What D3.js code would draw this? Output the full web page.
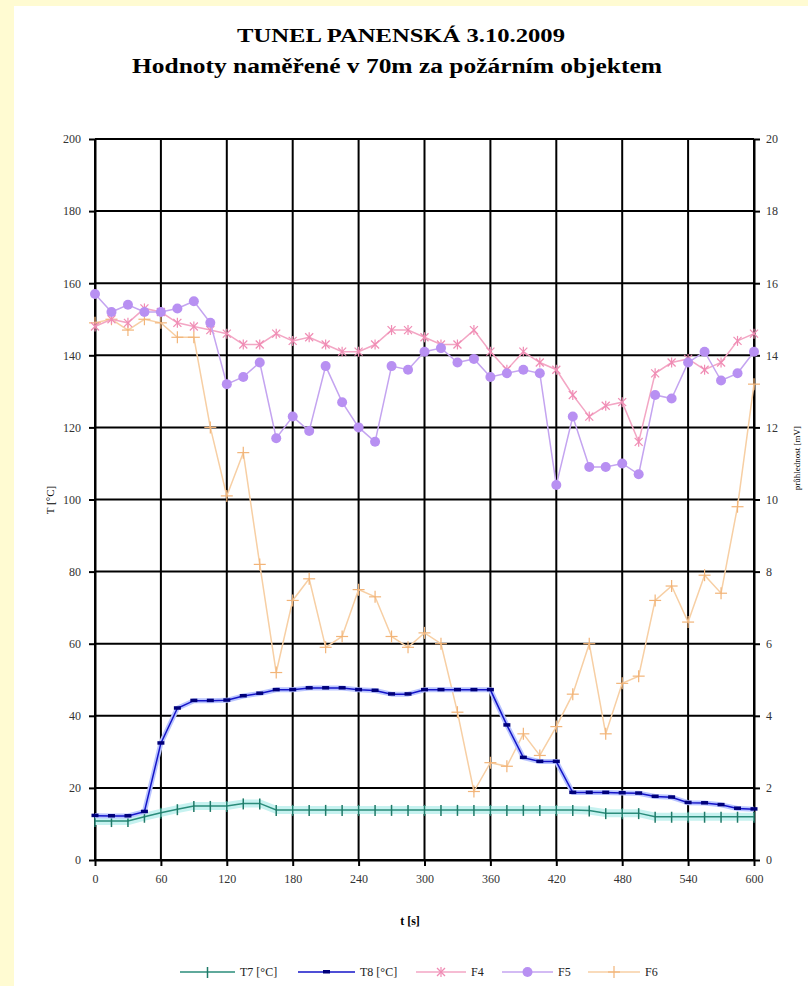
<!DOCTYPE html>
<html>
<head>
<meta charset="utf-8">
<script src="https://cdn.jsdelivr.net/npm/d3@7"></script>
<style>
  body { margin: 0; background: #fffbd2; }
  text { font-family: "Liberation Serif", "DejaVu Serif", serif; }
</style>
</head>
<body>
<script>
// time axis [s], one sample every 15 s
var times = [0, 15, 30, 45, 60, 75, 90, 105, 120, 135, 150, 165, 180, 195, 210,
  225, 240, 255, 270, 285, 300, 315, 330, 345, 360, 375, 390, 405, 420, 435,
  450, 465, 480, 495, 510, 525, 540, 555, 570, 585, 600];

// temperatures [°C], left axis
var T7 = [10.8, 10.8, 10.8, 12.0, 13.1, 14.1, 15.0, 15.0, 15.0, 15.7, 15.7,
  13.9, 13.9, 13.9, 13.9, 13.9, 13.9, 13.9, 13.9, 13.9, 13.9, 13.9, 13.9, 13.9,
  13.9, 13.9, 13.9, 13.9, 13.9, 13.9, 13.7, 13.0, 13.0, 13.0, 12.0, 12.0, 12.0,
  12.0, 12.0, 12.0, 12.0];
var T8 = [12.3, 12.2, 12.2, 13.4, 32.4, 42.1, 44.2, 44.2, 44.3, 45.5, 46.2,
  47.2, 47.2, 47.7, 47.7, 47.7, 47.2, 47.0, 46.0, 46.0, 47.2, 47.2, 47.2, 47.2,
  47.2, 37.4, 28.4, 27.3, 27.3, 18.7, 18.7, 18.7, 18.6, 18.5, 17.6, 17.4, 15.9,
  15.8, 15.3, 14.3, 14.1];

// detector signals [mV], right axis
var F4 = [14.8, 15.0, 14.9, 15.3, 15.2, 14.9, 14.8, 14.7, 14.6, 14.3, 14.3,
  14.6, 14.4, 14.5, 14.3, 14.1, 14.1, 14.3, 14.7, 14.7, 14.5, 14.3, 14.3, 14.7,
  14.1, 13.6, 14.1, 13.8, 13.6, 12.9, 12.3, 12.6, 12.7, 11.6, 13.5, 13.8, 13.9,
  13.6, 13.8, 14.4, 14.6];
var F5 = [15.7, 15.2, 15.4, 15.2, 15.2, 15.3, 15.5, 14.9, 13.2, 13.4, 13.8,
  11.7, 12.3, 11.9, 13.7, 12.7, 12.0, 11.6, 13.7, 13.6, 14.1, 14.2, 13.8, 13.9,
  13.4, 13.5, 13.6, 13.5, 10.4, 12.3, 10.9, 10.9, 11.0, 10.7, 12.9, 12.8, 13.8,
  14.1, 13.3, 13.5, 14.1];
var F6 = [14.9, 15.0, 14.7, 15.0, 14.9, 14.5, 14.5, 12.0, 10.1, 11.3, 8.2,
  5.2, 7.2, 7.8, 5.9, 6.2, 7.5, 7.3, 6.2, 5.9, 6.3, 6.0, 4.1, 1.9, 2.7, 2.6,
  3.5, 2.9, 3.7, 4.6, 6.0, 3.5, 4.9, 5.1, 7.2, 7.6, 6.6, 7.9, 7.4, 9.8, 13.2];

var xTicks = [0, 60, 120, 180, 240, 300, 360, 420, 480, 540, 600];
var yTicksL = [0, 20, 40, 60, 80, 100, 120, 140, 160, 180, 200];
var yTicksR = [0, 2, 4, 6, 8, 10, 12, 14, 16, 18, 20];

var titleLines = ["TUNEL PANENSKÁ 3.10.2009", "Hodnoty naměřené v 70m za požárním objektem"];
var legendNames = ["T7 [°C]", "T8 [°C]", "F4", "F5", "F6"];

var W = 808, H = 986;

function main() {
  var svg = d3.select("body").append("svg")
    .attr("width", W)
    .attr("height", H);

  svg.append("rect").attr("width", W).attr("height", H).attr("fill", "#fffbd2");
  svg.append("rect").attr("x", 14).attr("y", 6)
    .attr("width", W - 14).attr("height", H - 6).attr("fill", "#fff");

  var x = d3.scaleLinear().domain([0, 600]).range([95, 754]);
  var yL = d3.scaleLinear().domain([0, 200]).range([860, 139]);
  var yR = d3.scaleLinear().domain([0, 20]).range([860, 139]);

  // titles
  svg.append("text").attr("x", 401).attr("y", 42)
    .attr("text-anchor", "middle")
    .attr("font-size", 19).attr("font-weight", "bold")
    .attr("textLength", 328).attr("lengthAdjust", "spacingAndGlyphs")
    .text(titleLines[0]);
  svg.append("text").attr("x", 397).attr("y", 73)
    .attr("text-anchor", "middle")
    .attr("font-size", 20).attr("font-weight", "bold")
    .attr("textLength", 530).attr("lengthAdjust", "spacingAndGlyphs")
    .text(titleLines[1]);

  // grid
  var grid = svg.append("g").attr("stroke", "#000").attr("stroke-width", 2);
  grid.selectAll("line.h").data(yTicksL).enter().append("line")
    .attr("x1", x(0)).attr("x2", x(600))
    .attr("y1", function(d) { return yL(d); })
    .attr("y2", function(d) { return yL(d); });
  grid.selectAll("line.v").data(xTicks).enter().append("line")
    .attr("y1", yL(0)).attr("y2", yL(200))
    .attr("x1", function(d) { return x(d); })
    .attr("x2", function(d) { return x(d); });

  // axes
  function styleAxis(g) {
    g.select(".domain").attr("stroke", "#000").attr("stroke-width", 2);
    g.selectAll(".tick line").attr("stroke", "#000").attr("stroke-width", 2);
    g.selectAll(".tick text")
      .attr("fill", "#333")
      .style("font-family", "'Liberation Serif', serif")
      .style("font-size", "12px");
  }

  svg.append("g").attr("transform", "translate(0," + yL(0) + ")")
    .call(d3.axisBottom(x).tickValues(xTicks).tickSize(6).tickPadding(8).tickSizeOuter(0))
    .call(styleAxis);
  svg.append("g").attr("transform", "translate(" + x(0) + ",0)")
    .call(d3.axisLeft(yL).tickValues(yTicksL).tickSize(6).tickPadding(8).tickSizeOuter(0))
    .call(styleAxis);
  svg.append("g").attr("transform", "translate(" + x(600) + ",0)")
    .call(d3.axisRight(yR).tickValues(yTicksR).tickSize(6).tickPadding(6).tickSizeOuter(0))
    .call(styleAxis);

  // axis titles
  svg.append("text").attr("x", 410).attr("y", 925)
    .attr("text-anchor", "middle").attr("font-size", 12).attr("font-weight", "bold")
    .text("t [s]");
  svg.append("text")
    .attr("transform", "translate(54,500) rotate(-90)")
    .attr("text-anchor", "middle").attr("font-size", 11)
    .text("T [°C]");
  svg.append("text")
    .attr("transform", "translate(800,458) rotate(-90)")
    .attr("text-anchor", "middle").attr("font-size", 9)
    .text("průhlednost [mV]");

  // series
  var series = [
    { name: legendNames[0], vals: T7, y: yL, color: "#2a8c7a", halo: "#c6f2f0", haloW: 8, marker: "vtick", mcolor: "#1f7a68" },
    { name: legendNames[1], vals: T8, y: yL, color: "#1414c8", halo: "#b9c4ff", haloW: 5, marker: "dash", mcolor: "#00007a" },
    { name: legendNames[2], vals: F4, y: yR, color: "#f3a6c4", halo: null, marker: "star", mcolor: "#f08cb4" },
    { name: legendNames[3], vals: F5, y: yR, color: "#c4a4f0", halo: null, marker: "dot", mcolor: "#b890f2" },
    { name: legendNames[4], vals: F6, y: yR, color: "#f7cfa4", halo: null, marker: "plus", mcolor: "#f2b478" }
  ];

  function drawMarker(g, type, color) {
    if (type === "vtick") {
      g.append("line").attr("x1", 0).attr("x2", 0).attr("y1", -5).attr("y2", 6)
        .attr("stroke", color).attr("stroke-width", 1.5);
    } else if (type === "dash") {
      g.append("rect").attr("x", -3.5).attr("y", -2).attr("width", 7).attr("height", 3.5)
        .attr("fill", color);
    } else if (type === "star") {
      [[-4, -4, 4, 4], [-4, 4, 4, -4], [0, -5, 0, 5]].forEach(function(s) {
        g.append("line").attr("x1", s[0]).attr("y1", s[1]).attr("x2", s[2]).attr("y2", s[3])
          .attr("stroke", color).attr("stroke-width", 1.2);
      });
    } else if (type === "dot") {
      g.append("circle").attr("r", 5).attr("fill", color);
    } else if (type === "plus") {
      g.append("line").attr("x1", -6).attr("x2", 6).attr("y1", 0).attr("y2", 0)
        .attr("stroke", color).attr("stroke-width", 1.2);
      g.append("line").attr("x1", 0).attr("x2", 0).attr("y1", -6).attr("y2", 6)
        .attr("stroke", color).attr("stroke-width", 1.2);
    }
  }

  // draw back to front: F6, F4, F5, T7, T8
  var order = [4, 2, 3, 0, 1];
  order.forEach(function(i) {
    var s = series[i];
    var line = d3.line()
      .x(function(d, j) { return x(times[j]); })
      .y(function(d) { return s.y(d); });
    var g = svg.append("g");
    if (s.halo) {
      g.append("path").attr("d", line(s.vals)).attr("fill", "none")
        .attr("stroke", s.halo).attr("stroke-width", s.haloW).attr("stroke-linejoin", "round");
    }
    g.append("path").attr("d", line(s.vals)).attr("fill", "none")
      .attr("stroke", s.color).attr("stroke-width", 1.5);
    g.selectAll("g.m").data(s.vals).enter().append("g")
      .attr("transform", function(d, j) { return "translate(" + x(times[j]) + "," + s.y(d) + ")"; })
      .each(function() { drawMarker(d3.select(this), s.marker, s.mcolor); });
  });

  // legend
  var legX = [180, 298, 416, 502, 588];
  var legLen = [55, 57, 50, 51, 52];
  var legY = 972;
  series.forEach(function(s, i) {
    var g = svg.append("g");
    g.append("line").attr("x1", legX[i]).attr("x2", legX[i] + legLen[i])
      .attr("y1", legY).attr("y2", legY)
      .attr("stroke", s.color).attr("stroke-width", 1.5);
    var m = g.append("g").attr("transform", "translate(" + (legX[i] + legLen[i] / 2) + "," + legY + ")");
    drawMarker(m, s.marker, s.mcolor);
    g.append("text").attr("x", legX[i] + legLen[i] + 5).attr("y", legY + 4)
      .attr("font-size", 12).attr("fill", "#222")
      .text(s.name);
  });
}
main();
</script>
</body>
</html>
